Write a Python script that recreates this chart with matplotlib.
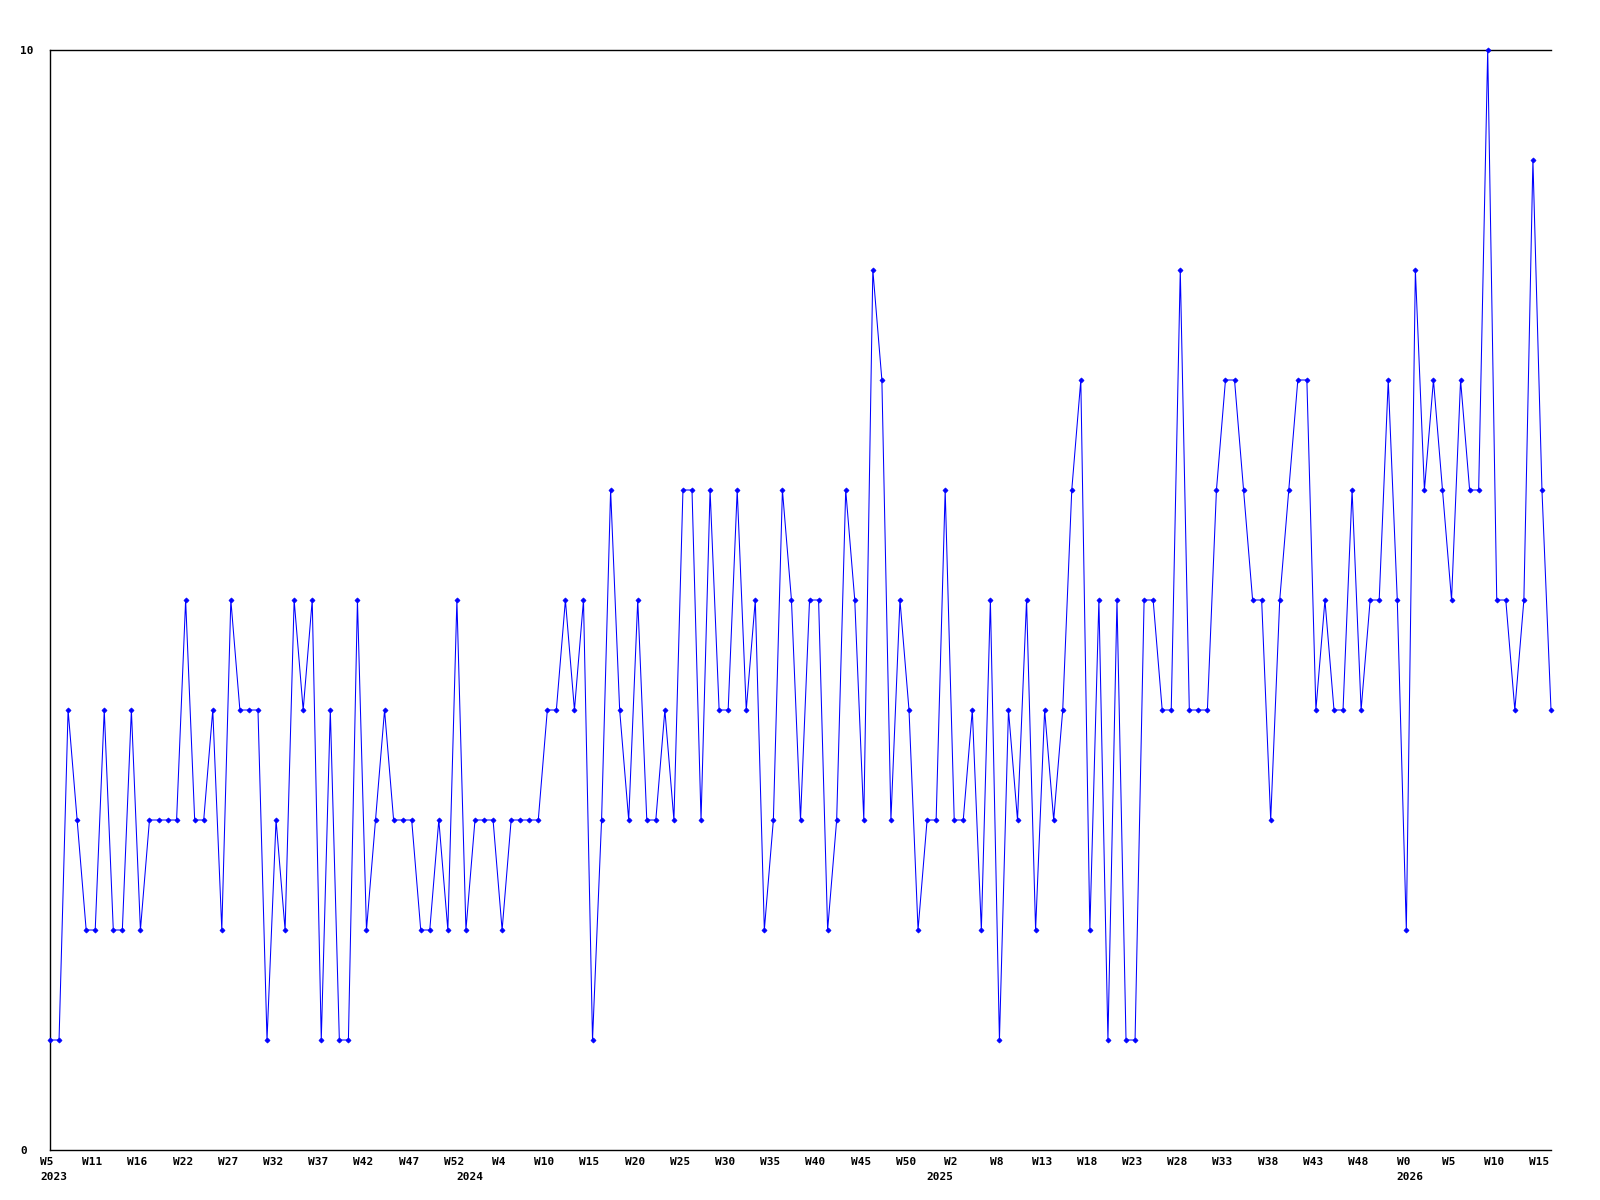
import matplotlib
matplotlib.use("Agg")
import matplotlib.pyplot as plt
import matplotlib.transforms as mtransforms
import numpy as np

# Weekly values, 2023 W5 .. 2026 W15
values = [
    1, 1, 4, 3, 2, 2, 4, 2, 2, 4, 2, 3, 3, 3, 3, 5, 3, 3, 4, 2,
    5, 4, 4, 4, 1, 3, 2, 5, 4, 5, 1, 4, 1, 1, 5, 2, 3, 4, 3, 3,
    3, 2, 2, 3, 2, 5, 2, 3, 3, 3, 2, 3, 3, 3, 3,
    4, 4, 5, 4, 5, 1, 3, 6, 4, 3, 5, 3, 3, 4, 3, 6, 6, 3, 6, 4,
    4, 6, 4, 5, 2, 3, 6, 5, 3, 5, 5, 2, 3, 6, 5, 3, 8, 7, 3, 5,
    4, 2, 3, 3, 6, 3, 3, 4, 2, 5, 1, 4, 3,
    5, 2, 4, 3, 4, 6, 7, 2, 5, 1, 5, 1, 1, 5, 5, 4, 4, 8, 4, 4,
    4, 6, 7, 7, 6, 5, 5, 3, 5, 6, 7, 7, 4, 5, 4, 4, 6, 4, 5, 5,
    7, 5, 2, 8, 6, 7, 6, 5, 7, 6, 6, 10, 5, 5, 4, 5, 9, 6, 4,
]

week_labels = ["W5", "W11", "W16", "W22", "W27", "W32", "W37", "W42", "W47", "W52",
               "W4", "W10", "W15", "W20", "W25", "W30", "W35", "W40", "W45", "W50",
               "W2", "W8", "W13", "W18", "W23", "W28", "W33", "W38", "W43", "W48",
               "W0", "W5", "W10", "W15"]
label_every = 5

year_labels = ["2023", "2024", "2025", "2026"]
year_first_point = [0, 46, 98, 150]

y_ticks = [0, 10]

font = dict(family="DejaVu Sans Mono", weight="bold", size=8)

fig = plt.figure(figsize=(16, 12), dpi=100)
W, H = 1600, 1200
ax = fig.add_axes([50 / W, 50 / H, (1551 - 50) / W, (1150 - 50) / H])

x = np.arange(len(values))
ax.plot(x, values, color="#0000ff", linewidth=0.75, marker="D", markersize=2.6,
        markerfacecolor="#0000ff", markeredgecolor="#0000ff", markeredgewidth=0.5,
        clip_on=False, zorder=3)

ax.set_xlim(0, len(values) - 1)
ax.set_ylim(0, 10)

for s in ["left", "bottom", "top"]:
    ax.spines[s].set_linewidth(1.0)
    ax.spines[s].set_color("black")
ax.spines["right"].set_visible(False)

tick_pos = np.arange(len(week_labels)) * label_every
ax.set_xticks(tick_pos)
ax.set_xticklabels(week_labels, **font)
ax.tick_params(axis="x", length=0, pad=5)
shift_left = mtransforms.ScaledTranslation(-3 / 100, 0, fig.dpi_scale_trans)
for lab in ax.get_xticklabels():
    lab.set_transform(lab.get_transform() + shift_left)

ax.set_yticks(y_ticks)
ax.set_yticklabels([str(v) for v in y_ticks], **font)
ax.tick_params(axis="y", length=0, pad=21.6)
for lab in ax.get_yticklabels():
    lab.set_horizontalalignment("left")

for lab, idx in zip(year_labels, year_first_point):
    ax.annotate(lab, xy=(idx, 0), xycoords=("data", "axes fraction"),
                xytext=(2.5, -15.5), textcoords="offset points",
                ha="center", va="top", **font)

fig.savefig("out.png", dpi=100, facecolor="white")
